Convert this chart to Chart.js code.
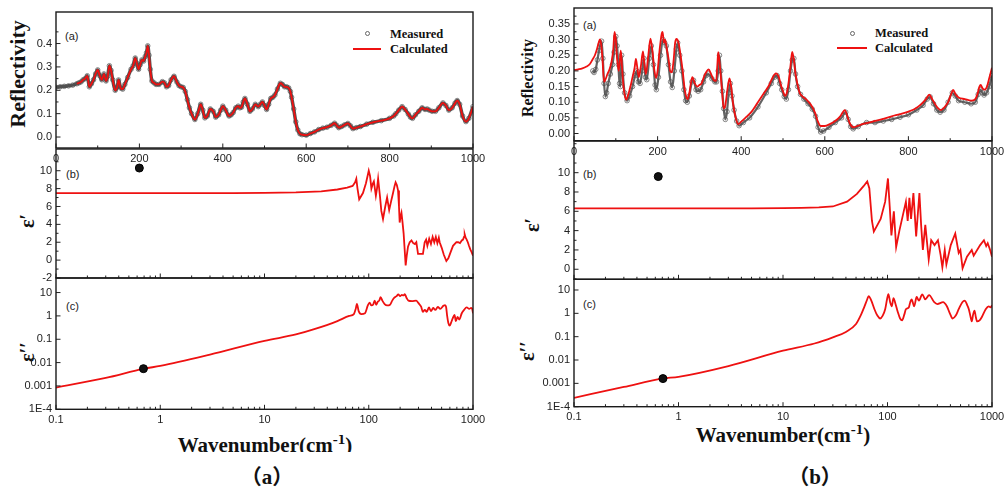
<!DOCTYPE html>
<html><head><meta charset="utf-8">
<script src="https://cdn.jsdelivr.net/npm/chart.js@4.4.0/dist/chart.umd.min.js"></script>
<style>
html,body{margin:0;padding:0;background:#fff;}
body{width:1005px;height:489px;position:relative;overflow:hidden;font-family:"Liberation Sans",Arial,sans-serif;}
canvas{position:absolute;}
.t{position:absolute;white-space:nowrap;}
.sf{font-family:"Liberation Serif","Times New Roman",serif;font-weight:bold;color:#111;}
.pl{font-size:11px;line-height:13px;color:#222;}
.lg{font-size:12.5px;line-height:15px;}
.yt{transform:translate(-50%,-50%) rotate(-90deg);line-height:1;}
.xt{font-size:21px;line-height:21px;text-align:center;width:260px;overflow:hidden;}
.xt sup{font-size:15px;vertical-align:baseline;position:relative;top:-8px;}
.cap{font-size:21px;line-height:26px;text-align:center;width:80px;font-family:"Liberation Serif","Noto Sans CJK SC",serif;}
</style></head><body>

<!-- y-axis titles -->
<div class="t sf yt" style="left:18px;top:74px;font-size:22px;">Reflectivity</div>
<div class="t sf yt" style="left:27px;top:221px;font-size:20px;">ε′</div>
<div class="t sf yt" style="left:27px;top:352px;font-size:20px;">ε′′</div>
<div class="t sf yt" style="left:528px;top:78px;font-size:16px;">Reflectivity</div>
<div class="t sf yt" style="left:532px;top:225px;font-size:20px;">ε′</div>
<div class="t sf yt" style="left:527px;top:351px;font-size:20px;">ε′′</div>

<!-- panel letters -->
<div class="t pl" style="left:65px;top:29.5px;">(a)</div>
<div class="t pl" style="left:66px;top:167.5px;">(b)</div>
<div class="t pl" style="left:66px;top:300px;">(c)</div>
<div class="t pl" style="left:583px;top:18.5px;">(a)</div>
<div class="t pl" style="left:583px;top:167.5px;">(b)</div>
<div class="t pl" style="left:583px;top:297.5px;">(c)</div>

<!-- legends -->
<div class="t" style="left:364.5px;top:31px;width:3px;height:3px;border:1px solid #666;border-radius:50%;"></div>
<div class="t" style="left:353px;top:48.3px;width:28px;height:2px;background:#ee1111;"></div>
<div class="t sf lg" style="left:390px;top:26.5px;">Measured</div>
<div class="t sf lg" style="left:390px;top:42px;">Calculated</div>
<div class="t" style="left:850px;top:30.5px;width:3px;height:3px;border:1px solid #666;border-radius:50%;"></div>
<div class="t" style="left:837px;top:47.3px;width:30px;height:2px;background:#ee1111;"></div>
<div class="t sf lg" style="left:875px;top:25.5px;">Measured</div>
<div class="t sf lg" style="left:875px;top:40.5px;">Calculated</div>

<!-- x titles -->
<div class="t sf xt" style="left:135px;top:435px;height:17px;">Wavenumber(cm<sup>-1</sup>)</div>
<div class="t sf xt" style="left:653px;top:425.4px;height:26px;">Wavenumber(cm<sup>-1</sup>)</div>
<div class="t sf cap" style="left:227px;top:464px;">（a）</div>
<div class="t sf cap" style="left:775px;top:464px;">（b）</div>

<script>
// ---------------- data ----------------
// Left figure (a): reflectivity, calculated (red line)
const reflA_calc = [[50,0.228],[55,0.232],[60,0.236],[65,0.245],[70,0.25],[75,0.262],[80,0.215],[85,0.228],[90,0.245],[95,0.27],[100,0.287],[105,0.262],[110,0.245],[115,0.27],[120,0.24],[124,0.26],[128,0.305],[132,0.285],[136,0.245],[142,0.2],[147,0.215],[150,0.244],[155,0.21],[160,0.205],[165,0.225],[172,0.255],[180,0.29],[185,0.305],[190,0.338],[194,0.315],[198,0.29],[202,0.31],[206,0.33],[210,0.325],[214,0.345],[217,0.36],[220,0.39],[223,0.35],[226,0.29],[230,0.24],[235,0.232],[240,0.225],[247,0.225],[255,0.237],[260,0.232],[265,0.215],[270,0.22],[276,0.245],[283,0.26],[290,0.235],[295,0.22],[300,0.215],[305,0.212],[310,0.195],[315,0.16],[320,0.125],[325,0.1],[333,0.075],[340,0.1],[347,0.14],[352,0.115],[357,0.082],[363,0.09],[370,0.12],[377,0.11],[383,0.085],[390,0.095],[395,0.115],[400,0.132],[407,0.115],[415,0.09],[420,0.095],[425,0.105],[431,0.125],[437,0.132],[441,0.125],[445,0.128],[449,0.15],[453,0.165],[459,0.14],[465,0.11],[471,0.12],[478,0.14],[485,0.13],[490,0.14],[495,0.15],[500,0.135],[505,0.118],[510,0.14],[515,0.165],[520,0.17],[525,0.18],[531,0.205],[538,0.23],[543,0.225],[548,0.215],[553,0.215],[558,0.21],[562,0.195],[565,0.17],[570,0.12],[575,0.065],[580,0.03],[585,0.014],[590,0.01],[600,0.008],[610,0.015],[620,0.022],[630,0.032],[640,0.038],[650,0.042],[660,0.05],[668,0.059],[673,0.05],[678,0.04],[685,0.045],[692,0.052],[700,0.058],[706,0.048],[712,0.036],[720,0.04],[730,0.045],[745,0.055],[760,0.063],[780,0.07],[800,0.08],[810,0.09],[815,0.1],[822,0.115],[830,0.13],[837,0.118],[845,0.098],[850,0.085],[855,0.08],[862,0.095],[870,0.11],[878,0.125],[885,0.118],[890,0.12],[895,0.115],[902,0.11],[910,0.11],[918,0.125],[928,0.146],[935,0.135],[942,0.115],[950,0.125],[957,0.145],[962,0.156],[968,0.14],[975,0.09],[983,0.066],[990,0.08],[1000,0.13]];
// Left figure (a): measured (open circles) - low-frequency part, the rest coincides with the calculated curve
const reflA_measLow = [[0,0.213],[10,0.215],[20,0.217],[30,0.219],[40,0.222]];

// Right figure (b): reflectivity
const reflB_calc = [[0,0.203],[10,0.205],[20,0.208],[30,0.214],[38,0.222],[45,0.238],[50,0.25],[55,0.27],[59,0.29],[62,0.301],[65,0.285],[68,0.24],[72,0.165],[76,0.175],[80,0.19],[85,0.205],[90,0.23],[94,0.27],[97,0.325],[100,0.3],[103,0.24],[107,0.2],[110,0.24],[112,0.265],[115,0.21],[118,0.155],[121,0.125],[125,0.108],[130,0.125],[135,0.15],[140,0.18],[145,0.21],[148,0.238],[151,0.215],[155,0.18],[160,0.215],[165,0.262],[168,0.225],[172,0.19],[177,0.24],[183,0.303],[188,0.26],[192,0.205],[196,0.178],[200,0.2],[205,0.27],[210,0.32],[212,0.325],[215,0.29],[218,0.3],[222,0.27],[226,0.24],[230,0.2],[234,0.195],[238,0.23],[242,0.29],[245,0.302],[250,0.29],[255,0.25],[260,0.2],[265,0.14],[269,0.115],[272,0.11],[276,0.13],[283,0.18],[289,0.16],[295,0.15],[300,0.155],[305,0.16],[312,0.185],[318,0.2],[322,0.205],[328,0.19],[335,0.17],[340,0.168],[343,0.22],[345,0.26],[348,0.23],[352,0.17],[355,0.12],[358,0.08],[362,0.09],[367,0.14],[372,0.176],[376,0.15],[380,0.1],[386,0.055],[393,0.03],[400,0.038],[410,0.05],[425,0.07],[440,0.1],[455,0.13],[465,0.15],[475,0.178],[483,0.192],[490,0.18],[495,0.155],[500,0.135],[505,0.12],[510,0.135],[515,0.18],[519,0.23],[522,0.261],[526,0.235],[530,0.19],[535,0.155],[540,0.13],[547,0.118],[555,0.11],[562,0.1],[570,0.085],[577,0.065],[583,0.04],[590,0.024],[600,0.024],[612,0.03],[625,0.04],[637,0.055],[648,0.075],[654,0.055],[660,0.032],[668,0.02],[680,0.025],[690,0.03],[705,0.035],[720,0.04],[740,0.047],[760,0.055],[780,0.062],[800,0.07],[815,0.078],[830,0.093],[842,0.11],[850,0.124],[856,0.112],[862,0.098],[870,0.082],[878,0.075],[885,0.082],[895,0.1],[902,0.125],[907,0.139],[913,0.125],[920,0.115],[935,0.11],[950,0.105],[960,0.11],[965,0.125],[970,0.15],[973,0.155],[977,0.145],[982,0.14],[988,0.15],[994,0.18],[1000,0.21]];
const reflB_meas = [[45,0.2],[48,0.195],[52,0.205],[56,0.235],[60,0.265],[63,0.285],[66,0.295],[69,0.24],[72,0.16],[75,0.118],[78,0.13],[82,0.16],[87,0.19],[92,0.22],[96,0.26],[100,0.31],[103,0.28],[106,0.22],[109,0.16],[111,0.15],[114,0.25],[117,0.19],[121,0.13],[127,0.105],[133,0.12],[140,0.15],[146,0.185],[150,0.2],[154,0.165],[158,0.16],[163,0.2],[167,0.24],[171,0.18],[174,0.172],[180,0.24],[185,0.28],[190,0.22],[194,0.155],[197,0.14],[202,0.18],[207,0.25],[213,0.3],[217,0.29],[221,0.28],[226,0.22],[231,0.165],[235,0.147],[240,0.2],[245,0.27],[248,0.29],[253,0.25],[258,0.2],[263,0.14],[267,0.105],[271,0.1],[276,0.12],[282,0.165],[286,0.17],[292,0.14],[297,0.135],[303,0.14],[310,0.165],[316,0.185],[322,0.19],[330,0.175],[337,0.165],[341,0.165],[345,0.2],[348,0.25],[351,0.2],[355,0.135],[358,0.08],[362,0.045],[366,0.07],[370,0.13],[374,0.16],[378,0.12],[383,0.075],[389,0.04],[395,0.025],[405,0.035],[420,0.05],[440,0.085],[460,0.13],[472,0.16],[480,0.18],[486,0.185],[492,0.16],[497,0.14],[503,0.118],[508,0.11],[513,0.14],[518,0.2],[522,0.235],[526,0.24],[530,0.19],[535,0.15],[542,0.125],[550,0.11],[560,0.095],[570,0.078],[578,0.055],[584,0.02],[590,0.005],[597,0.008],[610,0.02],[625,0.035],[640,0.05],[650,0.068],[656,0.045],[662,0.022],[668,0.015],[680,0.022],[700,0.035],[720,0.035],[740,0.04],[760,0.045],[780,0.052],[800,0.06],[820,0.075],[835,0.09],[845,0.11],[852,0.117],[860,0.095],[868,0.075],[876,0.068],[885,0.075],[895,0.1],[905,0.13],[912,0.12],[920,0.105],[935,0.1],[950,0.095],[960,0.1],[967,0.125],[972,0.14],[977,0.13],[981,0.123],[987,0.13],[993,0.15],[1000,0.185]];

// epsilon' (real part)
const eps1A = [[0.1,7.5],[1,7.5],[5,7.5],[10,7.52],[20,7.58],[35,7.7],[50,7.9],[62,8.1],[70,8.3],[74,8.7],[76,9.1],[78,8.0],[81,6.8],[88,7.5],[94,8.6],[100,10.0],[103,9.4],[106,8.0],[109,8.5],[112,8.8],[117,7.2],[120,8.0],[123,9.1],[128,7.2],[132,5.5],[137,4.6],[144,6.0],[150,7.0],[157,5.6],[164,6.6],[171,7.5],[177,8.3],[181,8.7],[186,8.4],[191,7.8],[195,6.0],[198,4.2],[202,4.9],[206,5.3],[211,4.2],[216,3.0],[221,1.2],[226,-0.6],[232,0.6],[238,1.5],[247,2.0],[257,2.2],[267,1.9],[277,1.8],[286,2.0],[297,0.7],[314,0.7],[331,0.7],[344,2.0],[355,2.3],[365,1.6],[380,2.4],[395,1.8],[410,2.6],[425,2.0],[440,2.6],[455,1.9],[470,2.5],[479,2.0],[500,1.4],[525,0.6],[555,-0.1],[580,0.2],[610,0.9],[643,1.6],[693,2.0],[720,2.0],[750,1.9],[780,2.2],[802,2.3],[820,2.6],[832,2.9],[850,2.5],[870,2.3],[892,2.0],[915,1.6],[942,1.2],[970,0.9],[1000,0.5]];
const eps1B = [[0.1,6.3],[1,6.3],[5,6.3],[10,6.32],[15,6.35],[22,6.4],[30,6.5],[41,7.0],[51,7.8],[59,8.6],[64,9.1],[67,8.4],[71,5.0],[74,3.9],[86,5.2],[95,7.0],[101,9.4],[105,6.5],[109,3.5],[115,6.0],[121,2.3],[130,4.0],[150,7.0],[156,5.0],[162,7.4],[168,5.2],[177,7.9],[188,3.4],[202,7.9],[210,4.5],[218,2.0],[230,4.6],[248,1.0],[262,3.0],[282,2.5],[304,3.0],[322,1.5],[335,0.2],[353,2.0],[366,0.5],[403,2.5],[445,3.7],[480,1.7],[498,2.0],[523,0.1],[576,1.3],[640,2.0],[668,1.4],[770,2.5],[837,3.0],[880,2.4],[910,2.7],[960,2.0],[1000,1.3]];

// epsilon'' (imaginary part)
const eps2A = [[0.1,0.00085],[0.3,0.0022],[0.7,0.0055],[1,0.0072],[3,0.022],[10,0.085],[20,0.16],[30,0.27],[50,0.6],[65,1.0],[72,1.2],[75,2.0],[77,3.3],[80,1.6],[85,1.2],[92,1.3],[98,2.8],[102,3.7],[106,2.8],[110,3.0],[114,4.5],[118,3.0],[122,4.0],[126,4.5],[130,6.3],[135,4.5],[142,3.2],[150,2.8],[160,3.0],[168,4.5],[176,6.0],[185,7.0],[192,8.3],[200,7.0],[208,8.0],[215,7.5],[222,8.5],[230,6.0],[240,4.5],[260,4.3],[285,4.5],[300,3.5],[318,2.5],[330,1.5],[345,1.8],[360,1.5],[378,2.3],[395,1.6],[415,2.2],[435,1.8],[460,2.4],[485,2.0],[520,2.7],[540,2.9],[552,2.4],[565,1.0],[580,0.5],[598,0.38],[615,0.5],[640,0.8],[665,1.1],[685,0.6],[710,0.9],[740,0.7],[780,1.3],[820,1.8],[870,2.3],[920,2.0],[960,2.2],[985,1.9],[1000,1.3]];
const eps2B = [[0.1,0.00024],[0.3,0.0007],[0.7,0.0016],[1,0.0019],[3,0.0055],[10,0.025],[20,0.051],[30,0.094],[40,0.16],[50,0.35],[56,0.9],[60,1.9],[64,4.0],[66,5.5],[70,3.5],[75,1.5],[80,0.8],[85,0.6],[90,0.8],[95,1.5],[99,4.0],[102,6.7],[106,3.0],[110,2.0],[114,4.5],[118,3.0],[125,1.2],[132,0.6],[138,0.5],[145,0.9],[150,1.5],[160,1.8],[165,3.0],[170,4.0],[180,2.0],[190,5.0],[200,3.5],[215,6.5],[230,4.0],[250,6.0],[280,3.0],[300,2.5],[340,3.0],[370,2.0],[395,1.0],[420,0.6],[450,0.8],[480,1.5],[520,3.0],[550,3.5],[580,2.2],[600,1.5],[620,0.8],[640,0.45],[660,0.9],[680,1.3],[700,0.7],[720,0.45],[760,0.5],[800,0.7],[870,1.5],[930,2.0],[970,1.8],[1000,2.2]];

// single black markers
const dotA_eps1 = [[0.63,10.3]];
const dotA_eps2 = [[0.69,0.0055]];
const dotB_eps1 = [[0.64,9.6]];
const dotB_eps2 = [[0.71,0.0016]];

// tick values / labels
const linXTicks = [0,200,400,600,800,1000];
const linXMinor = [100,300,500,700,900];
const reflYTicksA = [0,0.1,0.2,0.3,0.4];
const reflYLabelsA = ['0.0','0.1','0.2','0.3','0.4'];
const reflYMinorA = [0.05,0.15,0.25,0.35,0.45];
const reflYTicksB = [0,0.05,0.1,0.15,0.2,0.25,0.3,0.35];
const reflYLabelsB = ['0.00','0.05','0.10','0.15','0.20','0.25','0.30','0.35'];
const reflYMinorB = [0.025,0.075,0.125,0.175,0.225,0.275,0.325,0.375];
const eps1YTicksA = [-2,0,2,4,6,8,10];
const eps1YMinorA = [-1,1,3,5,7,9,11];
const eps1YTicksB = [0,2,4,6,8,10];
const eps1YMinorB = [-1,1,3,5,7,9,11,13];
const logXTicks = [0.1,1,10,100,1000];
const logXLabels = ['0.1','1','10','100','1000'];
const eps2YTicks = [1e-4,1e-3,1e-2,0.1,1,10];
const eps2YLabels = ['1E-4','0.001','0.01','0.1','1','10'];
const logXMinor = [];
[0.1,1,10,100].forEach(d => { for (let k = 2; k <= 9; k++) logXMinor.push(+(d*k).toPrecision(3)); });

// ---------------- drawing ----------------
const tickCfg = {};
const frameTicks = {
  id: 'frameTicks',
  afterDatasetsDraw(chart) {
    const o = tickCfg[chart.canvas.id];
    const {ctx, chartArea: a, scales} = chart;
    ctx.save();
    ctx.strokeStyle = '#222';
    ctx.lineWidth = 1;
    ctx.beginPath();
    const mk = (scale, vals, len, side) => {
      vals.forEach(v => {
        const p = scale.getPixelForValue(v);
        if (side === 'x') {
          if (p < a.left - 0.5 || p > a.right + 0.5) return;
          ctx.moveTo(p, a.bottom); ctx.lineTo(p, a.bottom - len);
        } else {
          if (p < a.top - 0.5 || p > a.bottom + 0.5) return;
          ctx.moveTo(a.left, p); ctx.lineTo(a.left + len, p);
        }
      });
    };
    mk(scales.x, o.xMajor, 4.5, 'x'); mk(scales.x, o.xMinor, 2.5, 'x');
    mk(scales.y, o.yMajor, 4.5, 'y'); mk(scales.y, o.yMinor, 2.5, 'y');
    ctx.stroke();
    ctx.lineWidth = 1.4;
    ctx.strokeStyle = '#1a1a1a';
    ctx.strokeRect(a.left, a.top, a.right - a.left, a.bottom - a.top);
    ctx.restore();
  }
};

const tickFont = {family: "'Liberation Sans', Arial, sans-serif", size: 11};
const pts = arr => arr.map(([x, y]) => ({x, y}));

function mkChart(id, box, plot, xs, ys, datasets) {
  const cv = document.createElement('canvas');
  cv.id = id; cv.width = box.w; cv.height = box.h;
  Object.assign(cv.style, {left: box.x + 'px', top: box.y + 'px', width: box.w + 'px', height: box.h + 'px'});
  document.body.appendChild(cv);
  const L = plot.l - box.x, R = box.x + box.w - plot.r, T = plot.t - box.y, B = box.y + box.h - plot.b;
  tickCfg[id] = {xMajor: xs.major, xMinor: xs.minor || [], yMajor: ys.major, yMinor: ys.minor || []};
  return new Chart(cv, {
    type: 'scatter',
    data: {datasets},
    options: {
      responsive: false, animation: false, devicePixelRatio: 1,
      layout: {padding: {left: 0, right: R, top: T, bottom: 0}},
      plugins: {legend: {display: false}, tooltip: {enabled: false}},
      scales: {
        x: {type: xs.type, min: xs.min, max: xs.max, position: 'bottom',
            grid: {display: false, drawTicks: false}, border: {display: false},
            afterBuildTicks: s => { s.ticks = xs.major.map(v => ({value: v})); },
            afterFit: s => { s.height = B; s.paddingLeft = 0; s.paddingRight = 0; },
            ticks: {display: !!xs.labels, autoSkip: false, maxRotation: 0, minRotation: 0,
                    padding: xs.pad || 4, color: '#222', font: tickFont,
                    callback: (v, i) => xs.labels ? xs.labels[i] : ''}},
        y: {type: ys.type, min: ys.min, max: ys.max, position: 'left',
            grid: {display: false, drawTicks: false}, border: {display: false},
            afterBuildTicks: s => { s.ticks = ys.major.map(v => ({value: v})); },
            afterFit: s => { s.width = L; s.paddingTop = 0; s.paddingBottom = 0; },
            ticks: {autoSkip: false, padding: 4, color: '#222', font: tickFont,
                    callback: (v, i) => ys.labels[i]}}
      }
    },
    plugins: [frameTicks]
  });
}

const RED = '#ee1111';
const calcLine = (d, smooth) => ({data: pts(d), showLine: true, borderColor: RED, borderWidth: 1.8,
  pointRadius: 0, cubicInterpolationMode: smooth ? 'monotone' : 'default', tension: 0, order: 0});
const measLine = (d, w, col) => ({data: pts(d), showLine: true, borderColor: col, borderWidth: w,
  pointRadius: 2.3, pointStyle: 'circle', pointBorderColor: 'rgba(80,80,80,0.85)', pointBorderWidth: 0.8,
  pointBackgroundColor: 'rgba(255,255,255,0)', cubicInterpolationMode: 'monotone', order: 2});
const dot = d => ({data: pts(d), showLine: false, pointRadius: 4, pointBackgroundColor: '#111',
  pointBorderColor: '#000', pointBorderWidth: 1, order: -1});

// ---- left column ----
mkChart('la', {x: 0, y: 0, w: 500, h: 170}, {l: 56, r: 473, t: 12, b: 148},
  {type: 'linear', min: 0, max: 1000, major: linXTicks, minor: linXMinor, labels: linXTicks.map(String), pad: 4},
  {type: 'linear', min: -0.047, max: 0.535, major: reflYTicksA, minor: reflYMinorA, labels: reflYLabelsA},
  [calcLine(reflA_calc, true), measLine(reflA_measLow.concat(reflA_calc), 3.5, 'rgba(50,50,50,0.85)')]);
mkChart('lb', {x: 0, y: 140, w: 500, h: 150}, {l: 56, r: 473, t: 149, b: 278},
  {type: 'logarithmic', min: 0.1, max: 1000, major: logXTicks, minor: logXMinor},
  {type: 'linear', min: -2, max: 12.43, major: eps1YTicksA, minor: eps1YMinorA, labels: eps1YTicksA.map(String)},
  [calcLine(eps1A, false), dot(dotA_eps1)]);
mkChart('lc', {x: 0, y: 268, w: 500, h: 172}, {l: 56, r: 473, t: 278, b: 409.3},
  {type: 'logarithmic', min: 0.1, max: 1000, major: logXTicks, minor: logXMinor, labels: logXLabels, pad: 4},
  {type: 'logarithmic', min: 1e-4, max: 42, major: eps2YTicks, labels: eps2YLabels},
  [calcLine(eps2A, true), dot(dotA_eps2)]);

// ---- right column ----
mkChart('ra', {x: 500, y: 0, w: 505, h: 165}, {l: 574, r: 992, t: 8, b: 140.7},
  {type: 'linear', min: 0, max: 1000, major: linXTicks, minor: linXMinor, labels: linXTicks.map(String), pad: 5},
  {type: 'linear', min: -0.023, max: 0.401, major: reflYTicksB, minor: reflYMinorB, labels: reflYLabelsB},
  [calcLine(reflB_calc, true), measLine(reflB_meas, 2.2, 'rgba(60,60,60,0.8)')]);
mkChart('rb', {x: 500, y: 130, w: 505, h: 160}, {l: 574, r: 992, t: 141, b: 279.3},
  {type: 'logarithmic', min: 0.1, max: 1000, major: logXTicks, minor: logXMinor},
  {type: 'linear', min: -1.04, max: 13.28, major: eps1YTicksB, minor: eps1YMinorB, labels: eps1YTicksB.map(String)},
  [calcLine(eps1B, false), dot(dotB_eps1)]);
mkChart('rc', {x: 500, y: 268, w: 505, h: 172}, {l: 574, r: 992, t: 279.3, b: 406.7},
  {type: 'logarithmic', min: 0.1, max: 1000, major: logXTicks, minor: logXMinor, labels: logXLabels, pad: 4},
  {type: 'logarithmic', min: 1e-4, max: 28.7, major: eps2YTicks, labels: eps2YLabels},
  [calcLine(eps2B, true), dot(dotB_eps2)]);
</script>
</body></html>
